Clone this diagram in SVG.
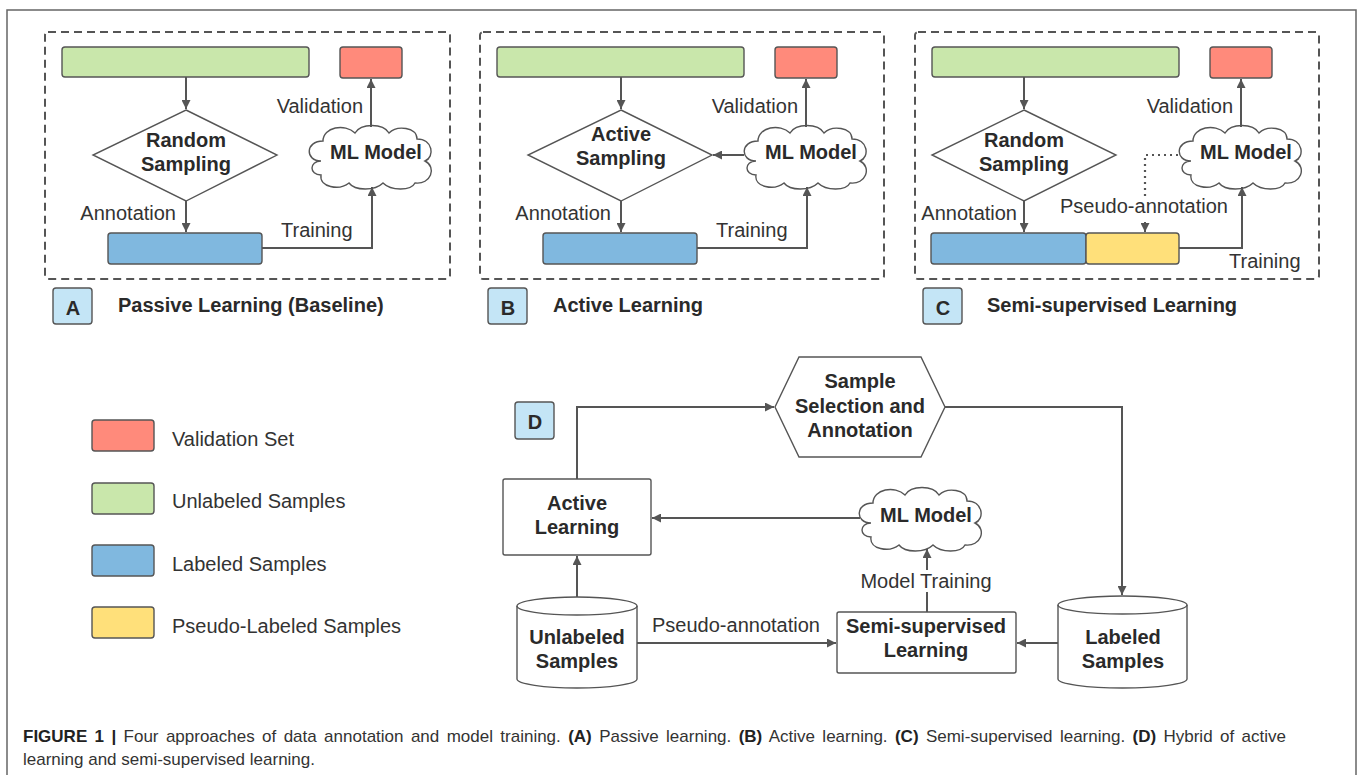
<svg xmlns="http://www.w3.org/2000/svg" xmlns:xlink="http://www.w3.org/1999/xlink" width="1358" height="775" viewBox="0 0 1358 775">
<style>
text{font-family:"Liberation Sans",Arial,sans-serif;fill:#333;}
.t{font-size:20px;}
.b{font-size:20px;font-weight:bold;fill:#2a2a2a;}
.m{text-anchor:middle;}
.e{text-anchor:end;}
.dash{fill:none;stroke:#555;stroke-width:2;stroke-dasharray:8,5;}
.box{stroke:#555;stroke-width:1.4;}
.green{fill:#C9E7AB;}
.red{fill:#FF8A7B;}
.blue{fill:#80B8DF;}
.yellow{fill:#FFE07A;}
.lbl{fill:#C4E5F6;stroke:#555;stroke-width:1.4;}
.shape{fill:#fff;stroke:#555;stroke-width:1.4;}
.con{fill:none;stroke:#555;stroke-width:2;marker-end:url(#ah);}
.dot{fill:none;stroke:#555;stroke-width:2.2;stroke-dasharray:2,4;}
.halo{stroke:#fff;stroke-width:8;paint-order:stroke;stroke-linejoin:round;}
.cap{font-size:17px;fill:#333;}
.capb{font-weight:bold;fill:#222;}
</style>
<defs>
<marker id="ah" viewBox="0 0 10 10" refX="10" refY="5" markerUnits="userSpaceOnUse" markerWidth="9" markerHeight="9" orient="auto">
<path d="M0,0 L10,5 L0,10 z" fill="#555"/>
</marker>
<path id="cloud" d="M-50,6 C-66,6 -66,-14 -48,-14 C-48,-28 -26,-32 -16,-22 C-10,-32 12,-32 18,-22 C26,-30 46,-28 46,-16 C62,-16 64,2 54,6 C66,12 60,30 44,28 C40,36 20,36 12,28 C4,36 -16,36 -22,28 C-32,36 -52,32 -50,20 C-62,20 -62,6 -50,6 Z" fill="#fff" stroke="#555" stroke-width="1.4"/>
</defs>
<rect width="1358" height="775" fill="#fff"/>
<path d="M7,775 V10 H1356 V775" fill="none" stroke="#666" stroke-width="1.5"/>

<!-- Panel A -->
<g id="panelA">
<rect class="dash" x="45" y="32" width="405" height="247" rx="3"/>
<rect class="box green" x="62" y="47" width="247" height="30" rx="3"/>
<rect class="box red" x="340" y="47" width="62" height="31" rx="3"/>
<polygon class="shape" points="186,110 277,155 186,201 93,155"/>
<text class="b m" x="186" y="147">Random</text>
<text class="b m" x="186" y="171">Sampling</text>
<use xlink:href="#cloud" x="371" y="155"/>
<text class="b m" x="376" y="159">ML Model</text>
<rect class="box blue" x="108" y="233" width="154" height="31" rx="3"/>
<rect class="lbl" x="53" y="288" width="39" height="36" rx="3"/>
<text class="b m" x="73" y="315">A</text>
<text class="b" x="118" y="312">Passive Learning (Baseline)</text>
</g>
<g id="connA">
<path class="con" d="M186,77 V109"/>
<path class="con" d="M186,201 V232"/>
<path class="con" d="M262,248 H372 V187"/>
<path class="con" d="M371,127 V79"/>
<text class="t e" x="176" y="220">Annotation</text>
<text class="t" x="281" y="237">Training</text>
<text class="t e" x="363" y="113">Validation</text>
</g>

<!-- Panel B -->
<g id="panelB">
<rect class="dash" x="480" y="32" width="404" height="247" rx="3"/>
<rect class="box green" x="497" y="47" width="247" height="30" rx="3"/>
<rect class="box red" x="775" y="47" width="62" height="31" rx="3"/>
<polygon class="shape" points="621,110 712,155 621,201 528,155"/>
<text class="b m" x="621" y="141">Active</text>
<text class="b m" x="621" y="165">Sampling</text>
<use xlink:href="#cloud" x="806" y="155"/>
<text class="b m" x="811" y="159">ML Model</text>
<rect class="box blue" x="543" y="233" width="154" height="31" rx="3"/>
<rect class="lbl" x="488" y="288" width="39" height="36" rx="3"/>
<text class="b m" x="508" y="315">B</text>
<text class="b" x="553" y="312">Active Learning</text>
</g>
<g id="connB">
<path class="con" d="M621,77 V109"/>
<path class="con" d="M621,201 V232"/>
<path class="con" d="M697,248 H807 V187"/>
<path class="con" d="M806,127 V79"/>
<path class="con" d="M744,155 H713"/>
<text class="t e" x="611" y="220">Annotation</text>
<text class="t" x="716" y="237">Training</text>
<text class="t e" x="798" y="113">Validation</text>
</g>

<!-- Panel C -->
<g id="panelC">
<rect class="dash" x="915" y="32" width="404" height="247" rx="3"/>
<rect class="box green" x="932" y="47" width="247" height="30" rx="3"/>
<rect class="box red" x="1210" y="47" width="62" height="31" rx="3"/>
<polygon class="shape" points="1024,110 1116,155 1024,201 932,155"/>
<text class="b m" x="1024" y="147">Random</text>
<text class="b m" x="1024" y="171">Sampling</text>
<use xlink:href="#cloud" x="1241" y="155"/>
<text class="b m" x="1246" y="159">ML Model</text>
<rect class="box blue" x="931" y="233" width="155" height="31" rx="3"/>
<rect class="box yellow" x="1086" y="233" width="93" height="31" rx="3"/>
<rect class="lbl" x="923" y="288" width="39" height="36" rx="3"/>
<text class="b m" x="943" y="315">C</text>
<text class="b" x="987" y="312">Semi-supervised Learning</text>
</g>
<g id="connC">
<path class="con" d="M1024,77 V109"/>
<path class="con" d="M1024,201 V232"/>
<path class="con" d="M1179,248 H1242 V187"/>
<path class="con" d="M1241,127 V79"/>
<path class="dot" d="M1178,155 H1145 V197"/>
<path class="con" d="M1145,222 V232"/>
<text class="t e" x="1017" y="220">Annotation</text>
<text class="t m" x="1144" y="213">Pseudo-annotation</text>
<text class="t" x="1229" y="268">Training</text>
<text class="t e" x="1233" y="113">Validation</text>
</g>

<!-- Legend -->
<g id="legend">
<rect class="box red" x="92" y="420" width="62" height="31" rx="3"/>
<text class="t" x="172" y="446">Validation Set</text>
<rect class="box green" x="92" y="483" width="62" height="31" rx="3"/>
<text class="t" x="172" y="508">Unlabeled Samples</text>
<rect class="box blue" x="92" y="545" width="62" height="31" rx="3"/>
<text class="t" x="172" y="571">Labeled Samples</text>
<rect class="box yellow" x="92" y="607" width="62" height="31" rx="3"/>
<text class="t" x="172" y="633">Pseudo-Labeled Samples</text>
</g>

<!-- Panel D -->
<g id="labelD">
<rect class="lbl" x="515" y="402" width="39" height="37" rx="3"/>
<text class="b m" x="535" y="429">D</text>
</g>
<g id="hexSelect">
<polygon class="shape" points="775,407 799,357 921,357 945,407 921,457 799,457"/>
<text class="b m" x="860" y="388">Sample</text>
<text class="b m" x="860" y="413">Selection and</text>
<text class="b m" x="860" y="437">Annotation</text>
</g>
<g id="activeD">
<rect class="shape" x="503" y="479" width="148" height="76" rx="2"/>
<text class="b m" x="577" y="510">Active</text>
<text class="b m" x="577" y="534">Learning</text>
</g>
<g id="mlD">
<use xlink:href="#cloud" x="921" y="517"/>
<text class="b m" x="926" y="522">ML Model</text>
</g>
<g id="semiD">
<rect class="shape" x="837" y="612" width="179" height="61" rx="2"/>
<text class="b m" x="926" y="633">Semi-supervised</text>
<text class="b m" x="926" y="657">Learning</text>
</g>
<g id="unlabeledD">
<path class="shape" d="M517,606 A60,9 0 0 1 637,606 V679 A60,9 0 0 1 517,679 Z"/>
<path d="M517,606 A60,9 0 0 0 637,606" fill="none" stroke="#555" stroke-width="1.4"/>
<text class="b m" x="577" y="644">Unlabeled</text>
<text class="b m" x="577" y="668">Samples</text>
</g>
<g id="labeledD">
<path class="shape" d="M1058,605 A64.5,9 0 0 1 1187,605 V679 A64.5,9 0 0 1 1058,679 Z"/>
<path d="M1058,605 A64.5,9 0 0 0 1187,605" fill="none" stroke="#555" stroke-width="1.4"/>
<text class="b m" x="1123" y="644">Labeled</text>
<text class="b m" x="1123" y="668">Samples</text>
</g>
<g id="connD">
<path class="con" d="M577,479 V407 H774"/>
<path class="con" d="M945,407 H1122 V595"/>
<path class="con" d="M860,518 H652"/>
<path class="con" d="M927,612 V549"/>
<path class="con" d="M577,597 V556"/>
<path class="con" d="M637,643 H836"/>
<path class="con" d="M1058,643 H1017"/>
<text class="t m halo" x="926" y="588">Model Training</text>
<text class="t m" x="736" y="632">Pseudo-annotation</text>
</g>

<!-- Caption -->
<g id="caption">
<text class="cap" x="23" y="742" word-spacing="2.65"><tspan class="capb">FIGURE 1 |</tspan> Four approaches of data annotation and model training. <tspan class="capb">(A)</tspan> Passive learning. <tspan class="capb">(B)</tspan> Active learning. <tspan class="capb">(C)</tspan> Semi-supervised learning. <tspan class="capb">(D)</tspan> Hybrid of active</text>
<text class="cap" x="23" y="765">learning and semi-supervised learning.</text>
</g>
</svg>
